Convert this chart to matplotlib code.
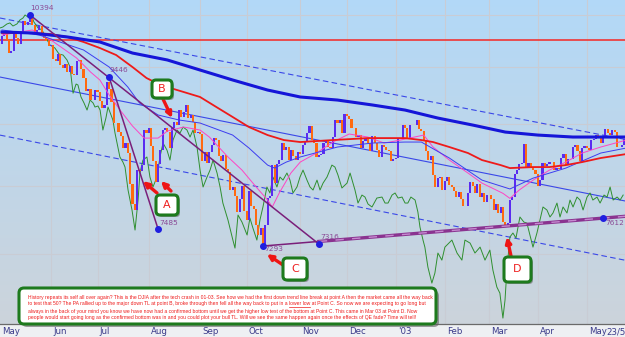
import numpy as np
import matplotlib
matplotlib.use("Agg")
import matplotlib.pyplot as plt
from matplotlib.patches import FancyBboxPatch
from matplotlib.ticker import NullLocator
from matplotlib.transforms import IdentityTransform

W, H = 625, 337

# ---- DJIA daily closes, 1 May 2002 - 23 May 2003 ----
closes_may02 = [10059, 10091, 10006, 9808, 9836, 10141, 10037, 9939, 10109, 10298, 10243,
                10289, 10353, 10229, 10105, 10157, 10216, 10104, 10040, 9981, 9912, 9925]
closes_jun02 = [9709, 9687, 9796, 9624, 9589, 9645, 9517, 9618, 9502, 9474,
                9687, 9706, 9562, 9431, 9253, 9281, 9126, 9120, 9269, 9243]
closes_jul02 = [9109, 9008, 9055, 9380, 9275, 9096, 8813, 8801, 8684, 8639, 8473,
                8542, 8409, 8019, 7784, 7702, 8191, 8187, 8264, 8712, 8680, 8737]
closes_aug02 = [8506, 8313, 8043, 8275, 8456, 8712, 8745, 8689, 8482, 8743, 8818,
                8778, 8991, 8884, 8958, 9053, 8873, 8919, 8825, 8671, 8693, 8664]
closes_sep02 = [8308, 8425, 8283, 8427, 8519, 8602, 8581, 8379, 8312, 8380,
                8207, 8172, 7942, 7986, 7872, 7683, 7841, 7997, 7701, 7592]
closes_oct02 = [7938, 7755, 7717, 7528, 7422, 7501, 7286, 7534, 7850, 7878, 8256, 8036,
                8275, 8322, 8538, 8450, 8494, 8318, 8444, 8368, 8325, 8427, 8397]
closes_nov02 = [8518, 8571, 8678, 8771, 8586, 8537, 8358, 8386, 8398, 8542,
                8579, 8487, 8474, 8623, 8845, 8805, 8849, 8676, 8931, 8896]
closes_dec02 = [8863, 8742, 8737, 8623, 8646, 8473, 8574, 8589, 8538, 8433, 8627,
                8536, 8447, 8365, 8511, 8493, 8448, 8432, 8304, 8333, 8342]
closes_jan03 = [8608, 8602, 8774, 8741, 8595, 8777, 8785, 8785, 8843, 8724, 8697,
                8586, 8443, 8318, 8369, 8131, 7990, 8089, 8110, 7946, 8054]
closes_feb03 = [8110, 8014, 7985, 7930, 7865, 7920, 7843, 7758, 7750, 7909,
                8042, 8000, 7915, 8018, 7858, 7910, 7806, 7884, 7891]
closes_mar03 = [7838, 7705, 7775, 7673, 7740, 7568, 7524, 7553, 7822, 7859, 8141,
                8194, 8265, 8287, 8522, 8215, 8281, 8229, 8201, 8145, 7992]
closes_apr03 = [8069, 8285, 8241, 8277, 8300, 8298, 8197, 8221, 8203, 8351, 8403,
                8257, 8338, 8328, 8485, 8515, 8440, 8307, 8472, 8502, 8480]
closes_may03 = [8454, 8583, 8588, 8644, 8604, 8535, 8604, 8726, 8679, 8647, 8713,
                8681, 8493, 8491, 8516, 8594, 8601]
first_open = 9946

month_starts = [0, 22, 42, 64, 86, 106, 129, 149, 170, 191, 210, 231, 252]
month_labels = ["May", "Jun", "Jul", "Aug", "Sep", "Oct", "Nov", "Dec", "'03",
                "Feb", "Mar", "Apr", "May"]
end_label_day = 259.3
end_label = "23/5"

# ---- moving averages (day index, value) ----
ma_long_days = [0, 13, 28, 42, 56, 71, 85, 99, 114, 128, 144, 159, 173, 187, 202, 216, 230, 245, 259, 268]
ma_long_vals = [10127, 10111, 10050, 9973, 9805, 9701, 9553, 9408, 9264, 9166, 9123, 9054,
                8984, 8875, 8780, 8686, 8646, 8620, 8620, 8620]
ma_mid_days = [0, 13, 21, 28, 35, 42, 49, 56, 62, 68, 78, 85, 92, 99, 106, 114, 121, 128, 142,
               157, 173, 180, 185, 192, 200, 206, 214, 218, 228, 235, 242, 249, 257, 268]
ma_mid_vals = [10111, 10111, 10095, 10050, 9973, 9881, 9775, 9597, 9437, 9336, 9236, 9166, 9026,
               8889, 8753, 8646, 8580, 8554, 8580, 8606, 8606, 8580, 8554, 8489, 8411, 8321,
               8257, 8219, 8232, 8232, 8257, 8295, 8347, 8398]
ma_thin_days = [0, 16, 35, 46, 54, 59, 67, 76, 85, 99, 106, 114, 117, 122, 128, 144, 159, 173,
                180, 192, 206, 218, 228, 242, 257, 268]
ma_thin_vals = [10158, 10080, 9851, 9597, 9307, 9082, 8916, 8848, 8807, 8646, 8476, 8257, 8219,
                8295, 8360, 8489, 8541, 8554, 8554, 8347, 8069, 7960, 8094, 8219, 8411, 8476]
ma_fast_days = [0, 13, 21, 32, 38, 42, 46, 51, 56, 61, 67, 71, 78, 85, 89, 97, 103, 109, 114,
                116, 119, 124, 128, 135, 142, 149, 157, 164, 171, 181, 185, 192, 200, 206, 215,
                218, 222, 228, 235, 242, 249, 257, 268]
ma_fast_vals = [10080, 10158, 10003, 9731, 9524, 9408, 9194, 8970, 8767, 8606, 8606, 8700, 8753,
                8713, 8620, 8360, 8194, 7987, 7826, 7743, 7911, 8157, 8295, 8411, 8554, 8660,
                8620, 8541, 8580, 8646, 8489, 8321, 8157, 8032, 7907, 7846, 7947, 8069, 8194,
                8295, 8411, 8489, 8580]

# ---- green comparison line ----
green_days = [-0.9, 0.4, 2.1, 3.4, 4.7, 6.4, 7.7, 9.0, 9.9, 11.2, 12.4, 13.7, 15.5, 17.2, 18.9,
              20.6, 22.7, 24.5, 26.2, 27.9, 29.2, 30.5, 31.8, 32.6, 33.9, 35.2, 36.5, 37.8,
              39.1, 39.9, 41.2, 42.1, 43.3, 44.6, 45.5, 46.8, 47.6, 48.5, 49.8, 50.6, 51.9,
              52.8, 54.1, 55.8, 57.1, 58.4, 59.2, 60.5, 62.2, 63.5, 64.8, 66.5, 67.8, 69.1,
              70.8, 72.1, 73.4, 75.1, 76.4, 77.7, 79.4, 80.7, 82.0, 83.7, 85.0, 86.3, 88.0,
              89.3, 90.6, 92.3, 93.6, 94.8, 97.0, 99.1, 100.0, 101.3, 103.0, 105.2, 106.4,
              107.7, 109.4, 110.7, 112.0, 113.7, 115.0, 116.3, 118.0, 119.3, 120.6, 122.3,
              123.6, 124.9, 126.6, 127.9, 129.2, 130.9, 132.2, 133.5, 135.2, 136.5, 137.8,
              139.5, 141.6, 142.9, 144.2, 145.9, 148.1, 149.4, 151.5, 152.8, 154.5, 155.8,
              157.1, 158.8, 160.9, 163.1, 164.4, 165.7, 167.4, 168.7, 170.0, 171.7, 173.0,
              174.2, 175.5, 177.3, 178.5, 179.4, 180.7, 181.5, 182.8, 184.5, 185.8, 187.1,
              188.8, 190.1, 191.4, 193.1, 195.3, 197.4, 198.7, 200.9, 203.0, 205.2, 207.3,
              209.4, 210.7, 212.4, 213.7, 215.0, 215.9, 216.7, 218.0, 219.3, 220.6, 222.3,
              224.0, 225.3, 226.6, 227.9, 229.6, 230.9, 232.2, 233.9, 235.2, 236.5, 238.2,
              239.5, 240.8, 242.5, 243.8, 245.1, 246.8, 248.1, 249.4, 251.1, 252.4, 253.6,
              255.4, 256.7, 258.4, 259.7, 261.0, 262.3, 264.0, 265.3, 266.6]
green_vals = [10189, 10205, 10252, 10268, 10220, 10252, 10315, 10346, 10394, 10362, 10410, 10283,
              10189, 10158, 10033, 9927, 9881, 9790, 9775, 9701, 9597, 9220, 9350, 9336, 9166,
              9082, 8984, 9123, 9082, 9026, 9040, 8984, 8713, 8875, 9026, 8916, 8848, 8673,
              8476, 8360, 8295, 8232, 7947, 7707, 7474, 7826, 8157, 8321, 8360, 8107, 7984,
              8107, 8360, 8541, 8450, 8321, 8580, 8713, 8673, 8753, 8713, 8620, 8713, 8489,
              8194, 7984, 8107, 8194, 8321, 8157, 7984, 7790, 7589, 7360, 7270, 7648, 7566,
              7417, 7613, 7497, 7360, 7589, 7743, 7984, 7911, 8107, 7984, 8107, 8069, 8157,
              8069, 7911, 7984, 8107, 8194, 8069, 7984, 7947, 8069, 7947, 8032, 8107, 8257,
              8232, 8132, 7972, 8032, 8157, 7947, 7790, 7886, 7862, 7778, 7743, 7850, 7862,
              7790, 7790, 7886, 7911, 7850, 7862, 7790, 7790, 7862, 7826, 7684, 7508, 7360,
              7281, 7061, 6890, 6997, 7215, 7137, 7281, 7315, 7360, 7215, 7137, 7360, 7326,
              7215, 7281, 7137, 7248, 7029, 6848, 6785, 6530, 6713, 7029, 7395, 7440, 7383,
              7625, 7566, 7554, 7417, 7281, 7440, 7589, 7743, 7707, 7625, 7672, 7790, 7625,
              7743, 7672, 7826, 7743, 7862, 7826, 7707, 7862, 7911, 7826, 7862, 7790, 7886,
              7862, 7984, 7826, 7862, 7826, 7886]

# ---- pivots and trend lines ----
pivot_days = [12, 46, 67, 112, 136, 258]
pivot_prices = [10394, 9446, 7485, 7293, 7316, 7612]
round_level = 10000
channel_days = [0, 260]
channel_upper = [10340, 8633]
channel_mid = [9445, 7856]
channel_lower = [8640, 7174]
grid_levels = [7200, 8000, 8800, 9600, 10400]

note_lines = [
    "History repeats its self all over again? This is the DJIA after the tech crash in 01-03. See how we had the first down trend line break at point A then the market came all the way back",
    "to test that 50? The PA rallied up to the major down TL at point B, broke through then fell all the way back to put in a lower low at Point C. So now we are expecting to go long but",
    "always in the back of your mind you know we have now had a confirmed bottom until we get the higher low test of the bottom at Point C. This came in Mar 03 at Point D. Now",
    "people would start going long as the confirmed bottom was in and you could plot your bull TL. Will we see the same happen again once the effects of QE fade? Time will tell!",
]

closes = np.array(closes_may02 + closes_jun02 + closes_jul02 + closes_aug02 + closes_sep02 +
                  closes_oct02 + closes_nov02 + closes_dec02 + closes_jan03 + closes_feb03 +
                  closes_mar03 + closes_apr03 + closes_may03, dtype=float)
days = np.arange(len(closes))
opens = np.concatenate([[first_open], closes[:-1]])

fig = plt.figure(figsize=(W / 100, H / 100), dpi=100)
fig.patch.set_facecolor("#eef0f3")
pos = [0, 13 / H, 1, 324 / H]

# gradient background
bg = fig.add_axes(pos, zorder=0)
grad = np.linspace(0, 1, 256)[:, None]
top_c = np.array([0.70, 0.85, 0.97])
bot_c = np.array([0.80, 0.83, 0.86])
img = top_c[None, None, :] * (1 - grad[:, :, None]) + bot_c[None, None, :] * grad[:, :, None]
bg.imshow(img, aspect="auto", extent=[0, 1, 0, 1])
bg.axis("off")

ax = fig.add_axes(pos, zorder=1)
ax.set_facecolor("none")
ax.set_yscale("log")
ax.set_xlim(-0.86, 267.4)
ax.set_ylim(6471, 10636)

ax.yaxis.set_minor_locator(NullLocator())
ax.set_yticks(grid_levels)
ax.set_yticklabels([])
ax.tick_params(axis="y", length=0)
ax.grid(axis="y", color="#c9ccd4", lw=0.8)
for ms in month_starts[1:]:
    ax.axvline(ms - 1, color="#c9ccd4", lw=0.8, zorder=0.5)

ax.set_xticks(month_starts + [end_label_day])
ax.set_xticklabels(month_labels + [end_label], fontsize=6.2, color="#3a3a8a", ha="left")
ax.tick_params(axis="x", length=0, pad=2.5)
for s in ["top", "right", "left"]:
    ax.spines[s].set_visible(False)
ax.spines["bottom"].set_color("#6a6a6a")
ax.spines["bottom"].set_linewidth(0.9)

# horizontal round number line
ax.axhline(round_level, color="#f03535", lw=1.2, zorder=2)

# channel lines
ax.axline((channel_days[0], channel_upper[0]), (channel_days[1], channel_upper[1]),
          color="#3a48e8", lw=0.8, ls=(0, (5, 3)), zorder=2)
ax.axline((channel_days[0], channel_mid[0]), (channel_days[1], channel_mid[1]),
          color="#3a48e8", lw=0.8, zorder=2)
ax.axline((channel_days[0], channel_lower[0]), (channel_days[1], channel_lower[1]),
          color="#3a48e8", lw=0.8, ls=(0, (5, 3)), zorder=2)

# green comparison line
ax.plot(green_days, green_vals, color="#2f8f2f", lw=0.7, zorder=3)

# price bars
up = closes >= opens
ax.bar(days, np.abs(closes - opens), bottom=np.minimum(opens, closes), width=0.9,
       color=np.where(up, "#5a2cf0", "#ff6a10"), lw=0, zorder=4)

# moving averages
ax.plot(ma_fast_days, ma_fast_vals, color="#ff44c4", lw=0.7, zorder=5)
ax.plot(ma_thin_days, ma_thin_vals, color="#3c3cf0", lw=0.7, zorder=5)
ax.plot(ma_mid_days, ma_mid_vals, color="#ee1a1a", lw=1.3, zorder=5)
ax.plot(ma_long_days, ma_long_vals, color="#1515d8", lw=2.2, zorder=5)

# down trend lines
tl = "#7a1f7a"
ax.plot([pivot_days[0], pivot_days[4]], [pivot_prices[0], pivot_prices[4]], color=tl, lw=1.1, zorder=6)
ax.plot([pivot_days[1], pivot_days[2]], [pivot_prices[1], pivot_prices[2]], color=tl, lw=1.1, zorder=6)

# bull trend line from the Oct low through the Mar low, extended to the right edge
slope = np.log(pivot_prices[5] / pivot_prices[3]) / (pivot_days[5] - pivot_days[3])
x_end = 267.4
y_end = pivot_prices[5] * np.exp(slope * (x_end - pivot_days[5]))
y_mid = pivot_prices[3] * np.exp(slope * (pivot_days[4] - pivot_days[3]))
ax.plot([pivot_days[3], pivot_days[4]], [pivot_prices[3], y_mid], color=tl, lw=1.1, zorder=6)
ax.plot([pivot_days[4], x_end], [y_mid, y_end], color="#8a3390", lw=2.4, zorder=6)
ax.plot([pivot_days[4], x_end], [y_mid, y_end], color="#c58ad0", lw=1.0,
        ls=(0, (6, 6)), zorder=6)

# pivot dots + labels
ax.plot(pivot_days, pivot_prices, "o", color="#1f1fe0", ms=4, zorder=7)
label_offsets = [(0, 3), (0, 3), (1, 2), (1, -4), (1, 3), (1.5, -6)]
for d, p, off in zip(pivot_days, pivot_prices, label_offsets):
    ax.annotate(str(p), (d, p), xytext=off, textcoords="offset points",
                fontsize=5.3, color="#8a4a96", ha="left", va="bottom", zorder=7)


def px(x, y):
    return (x, H - y)


# letter boxes with red arrows
boxes = {
    "A": (156, 195, 178, 215),
    "B": (152, 80, 172, 98),
    "C": (283, 258, 307, 280),
    "D": (504, 257, 531, 282),
}
arrows = [
    ("A", (60.5, 8057), (157, 193)),
    ("A", (68.2, 8057), (171, 191)),
    ("B", (73, 8875), (163, 99)),
    ("C", (113.7, 7203), (283, 265)),
    ("D", (216.7, 7395), (511, 256)),
]
for name, (x0, y0, x1, y1) in boxes.items():
    sh = FancyBboxPatch((x0 + 2, H - y1 - 2), x1 - x0, y1 - y0,
                        boxstyle="round,pad=0,rounding_size=4", transform=IdentityTransform(),
                        fc="#606060", ec="none", alpha=0.6, zorder=8)
    fig.patches.append(sh)
    bx = FancyBboxPatch((x0, H - y1), x1 - x0, y1 - y0,
                        boxstyle="round,pad=0,rounding_size=4", transform=IdentityTransform(),
                        fc="white", ec="#1d7a1d", lw=2.2, zorder=9)
    fig.patches.append(bx)
    fig.text((x0 + x1) / 2 / W, 1 - (y0 + y1) / 2 / H, name, color="#ee2020",
             fontsize=8, ha="center", va="center", zorder=10)

for name, xy, tail in arrows:
    ax.annotate("", xy=xy, xytext=px(*tail), textcoords="figure pixels",
                arrowprops=dict(arrowstyle="-|>", color="#ee1515", lw=2.4,
                                mutation_scale=8, shrinkA=0, shrinkB=0), zorder=9)

# note box
sh = FancyBboxPatch((22, H - 327), 417, 36, boxstyle="round,pad=0,rounding_size=5",
                    transform=IdentityTransform(), fc="#606060", ec="none", alpha=0.6, zorder=8)
fig.patches.append(sh)
nb = FancyBboxPatch((19, H - 324), 417, 36, boxstyle="round,pad=0,rounding_size=5",
                    transform=IdentityTransform(), fc="white", ec="#1d7a1d", lw=2.2, zorder=9)
fig.patches.append(nb)

note_font = ["Liberation Sans Narrow", "Liberation Sans", "DejaVu Sans"]
note_size = 3.6
line_y = [297, 304, 311, 317.5]
for line, ly in zip(note_lines, line_y):
    fig.text(28 / W, 1 - ly / H, line, fontsize=note_size, color="#ee1a1a",
             family=note_font, va="center", ha="left", zorder=10)

# underline "lower low"
renderer = fig.canvas.get_renderer()
key = "lower low"
line2 = note_lines[1]
prefix = line2[: line2.index(key) + len(key)]
tmp = fig.text(28 / W, 0, prefix, fontsize=note_size, family=note_font)
tmp_w = fig.text(28 / W, 0, key, fontsize=note_size, family=note_font)
end_x = tmp.get_window_extent(renderer).x1
start_x = end_x - tmp_w.get_window_extent(renderer).width
tmp.remove()
tmp_w.remove()
uy = H - line_y[1] - 2.5
fig.add_artist(plt.Line2D([start_x, end_x], [uy, uy], transform=IdentityTransform(),
                          color="#ee1a1a", lw=0.5, zorder=10))

fig.savefig("out.png", dpi=100, facecolor=fig.get_facecolor())
